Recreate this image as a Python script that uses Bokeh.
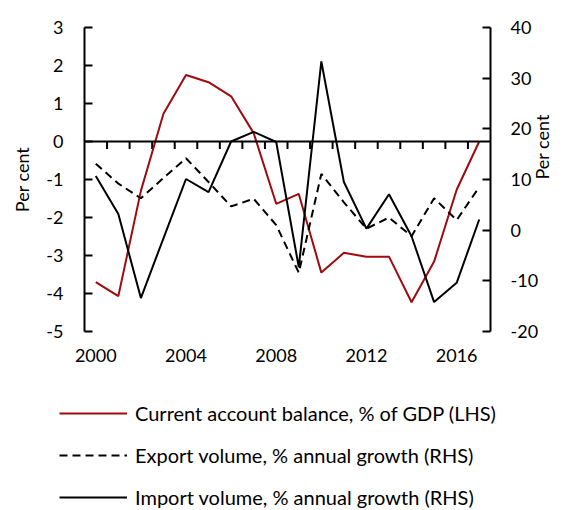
import math
from bokeh.plotting import figure
from bokeh.layouts import column
from bokeh.models import (LinearAxis, Range1d, FixedTicker, Span, Legend, LegendItem)
from bokeh.embed import file_html
from bokeh.resources import INLINE

years = list(range(2000, 2018))
current_account = [-3.70, -4.07, -1.30, 0.73, 1.75, 1.56, 1.19, 0.22, -1.64, -1.38,
                   -3.45, -2.93, -3.03, -3.03, -4.23, -3.16, -1.27, 0.0]
export_growth = [13.1, 9.2, 6.3, 10.3, 14.2, 9.5, 4.7, 6.2, 1.0, -8.4,
                 11.1, 5.5, 0.3, 2.5, -1.2, 6.3, 2.0, 8.5]
import_growth = [10.7, 3.2, -13.4, -1.6, 10.1, 7.5, 17.5, 19.4, 17.4, -7.3,
                 33.3, 9.5, 0.3, 7.1, -1.2, -14.2, -10.4, 2.1]
x_tick_labels = [2000, 2004, 2008, 2012, 2016]
left_ticks = list(range(-5, 4))
right_ticks = list(range(-20, 41, 10))
labels = ["Current account balance, % of GDP (LHS)",
          "Export volume, % annual growth (RHS)",
          "Import volume, % annual growth (RHS)"]

FONT = "Lato"
FS = "18px"
LFS = "20px"
RED = "#9E0B0F"

p = figure(width=574, height=376, output_backend="svg", toolbar_location=None,
           x_range=Range1d(years[0] - 0.5, years[-1] + 0.5),
           y_range=Range1d(-5, 3),
           min_border_left=84, min_border_right=84, min_border_top=27,
           min_border_bottom=45, frame_align=False)
p.extra_y_ranges = {"right": Range1d(-20, 40)}
p.outline_line_color = None
p.grid.visible = False
p.background_fill_color = "white"
p.border_fill_color = "white"

# x axis (labels only)
xa = p.xaxis[0]
xa.ticker = FixedTicker(ticks=x_tick_labels)
xa.axis_line_color = None
xa.major_tick_line_color = None
xa.minor_tick_line_color = None
xa.major_label_standoff = 11
xa.major_label_text_font = FONT
xa.major_label_text_font_size = FS
xa.major_label_text_color = "black"


def style_y(ax, ticks):
    ax.ticker = FixedTicker(ticks=ticks)
    ax.major_label_overrides = {t: str(t) for t in ticks}
    ax.axis_line_width = 2
    ax.major_tick_line_width = 2
    ax.major_tick_in = 8
    ax.major_tick_out = 0
    ax.minor_tick_line_color = None
    ax.major_label_standoff = 21
    ax.major_label_text_font = FONT
    ax.major_label_text_font_size = FS
    ax.major_label_text_color = "black"
    ax.axis_label = "Per cent"
    ax.axis_label_text_font = FONT
    ax.axis_label_text_font_size = FS
    ax.axis_label_text_font_style = "normal"
    ax.axis_label_text_color = "black"
    ax.axis_label_standoff = 10


style_y(p.yaxis[0], left_ticks)
ra = LinearAxis(y_range_name="right")
style_y(ra, right_ticks)
ra.major_label_standoff = 20
ra.axis_label_orientation = math.pi / 2
ra.axis_label_standoff = 1
p.add_layout(ra, "right")

# zero line with category tick marks
p.add_layout(Span(location=0, dimension="width", line_color="black", line_width=2))
bounds = [y + 0.5 for y in years[:-1]]
p.segment(x0=bounds, y0=[0] * len(bounds), x1=bounds, y1=[-0.2] * len(bounds),
          line_color="black", line_width=2)

p.line(years, current_account, line_color=RED, line_width=2)
p.line(years, export_growth, line_color="black", line_width=2,
       line_dash="8 5", y_range_name="right")
p.line(years, import_growth, line_color="black", line_width=2,
       y_range_name="right")

# legend in its own figure below (series drawn outside its view, used as legend proxies)
lg = figure(width=574, height=134, output_backend="svg", toolbar_location=None,
            x_range=Range1d(0, 1), y_range=Range1d(0, 1),
            x_axis_location=None, y_axis_location=None,
            min_border=0, outline_line_color=None, frame_align=False)
lg.grid.visible = False
l1 = lg.line(years, current_account, line_color=RED, line_width=2)
l2 = lg.line(years, export_growth, line_color="black", line_width=2, line_dash="8 5")
l3 = lg.line(years, import_growth, line_color="black", line_width=2)
legend = Legend(items=[LegendItem(label=labels[0], renderers=[l1]),
                       LegendItem(label=labels[1], renderers=[l2]),
                       LegendItem(label=labels[2], renderers=[l3])],
                location=(59, 1), orientation="vertical",
                glyph_width=68, glyph_height=20, label_standoff=8,
                label_text_font=FONT, label_text_font_size=LFS,
                label_text_color="black",
                spacing=18, padding=0, margin=0,
                border_line_color=None, background_fill_alpha=0)
lg.add_layout(legend, "center")

open("out.html", "w").write(file_html(column(p, lg, spacing=0), INLINE))
